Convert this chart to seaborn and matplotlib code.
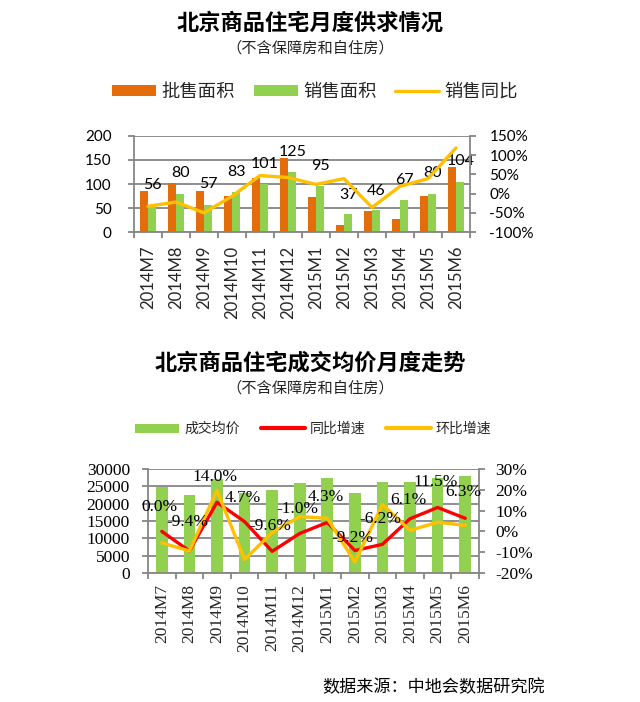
import matplotlib
matplotlib.use("Agg")
import matplotlib.pyplot as plt
import matplotlib.ticker as mticker
from matplotlib.patches import Patch
from matplotlib.lines import Line2D
import seaborn as sns
import pandas as pd
import numpy as np

sns.set_theme(style="white")
plt.rcParams['font.family'] = ['Noto Sans CJK SC', 'DejaVu Sans']
plt.rcParams['axes.unicode_minus'] = False

# data
months = ["2014M7", "2014M8", "2014M9", "2014M10", "2014M11", "2014M12",
          "2015M1", "2015M2", "2015M3", "2015M4", "2015M5", "2015M6"]
wholesale_area = [85, 103, 85, 76, 113, 155, 72, 14, 43, 28, 74, 135]
sales_area = [56, 80, 57, 83, 101, 125, 95, 37, 46, 67, 80, 104]
sales_yoy = [-33, -22, -50, -7, 47, 42, 24, 39, -36, 19, 39, 119]

avg_price = [24900, 22600, 27100, 23200, 24000, 25850, 27300, 23200, 26200, 26300, 27300, 28070]
price_yoy = [0.0, -9.4, 14.0, 4.7, -9.6, -1.0, 4.3, -9.2, -6.2, 6.1, 11.5, 6.3]
price_mom = [-5.5, -9.4, 19.7, -13.5, -0.6, 7.1, 6.3, -14.7, 12.9, 0.5, 4.4, 2.9]

# label placement (layout only)
area_label_y = [97, 123, 99, 124, 142, 167, 137, 78, 85, 109, 123, 148]
yoy_label_dy = [24, 29, 25, 24, 25, 24, 25, 13, 25, 19, 25, 26]

ORANGE = "#E46C0A"
GREEN = "#92D050"
YELLOW = "#FFC000"
RED = "#FF0000"
GRAY = "#868686"
CJK = "Noto Sans CJK SC"
SANS = "Lato"
SERIF = "Liberation Serif"

fig = plt.figure(figsize=(6.4, 7.02), dpi=100)
W, H = 640, 702


def fx(px):
    return px / W


def fy(py):
    return 1 - py / H


def style_axes(ax, axr, tick_font, tick_size, xtick_size, lpad, rpad, xpad):
    for s in ["top", "right"]:
        ax.spines[s].set_visible(False)
    for s in ["left", "bottom"]:
        ax.spines[s].set_color(GRAY)
        ax.spines[s].set_linewidth(1.3)
    for s in ["top", "left", "bottom"]:
        axr.spines[s].set_visible(False)
    axr.spines["right"].set_color(GRAY)
    axr.spines["right"].set_linewidth(1.3)
    ax.yaxis.grid(True, color=GRAY, linewidth=1.3)
    ax.xaxis.grid(False)
    ax.set_axisbelow(True)
    ax.set_xlim(-0.5, len(months) - 0.5)
    ax.set_xticks(np.arange(len(months)))
    ax.set_xticklabels(months, rotation=90, fontfamily=tick_font, fontsize=xtick_size)
    ax.set_xticks(np.arange(-0.5, len(months), 1), minor=True)
    ax.tick_params(axis="x", which="major", length=0, pad=xpad)
    ax.tick_params(axis="x", which="minor", length=4, width=1.3, color=GRAY, direction="out", bottom=True)
    ax.tick_params(axis="y", length=4, width=1.3, color=GRAY, direction="out", left=True, pad=lpad)
    axr.tick_params(axis="y", length=4, width=1.3, color=GRAY, direction="out", right=True, pad=rpad)
    for lab in ax.get_yticklabels() + axr.get_yticklabels():
        lab.set_fontfamily(tick_font)
        lab.set_fontsize(tick_size)
        lab.set_color("black")
    ax.set_xlabel("")
    ax.set_ylabel("")
    axr.set_ylabel("")


# ---------------- Chart 1 ----------------
ax1 = fig.add_axes([fx(134), fy(232), fx(470 - 134), (232 - 136) / H])
df1 = pd.DataFrame({
    "month": months * 2,
    "value": wholesale_area + sales_area,
    "series": ["批售面积"] * len(months) + ["销售面积"] * len(months),
})
sns.barplot(data=df1, x="month", y="value", hue="series", order=months,
            palette=[ORANGE, GREEN], width=0.56, dodge=True, saturation=1,
            legend=False, ax=ax1, linewidth=0)
ax1.set_ylim(0, 200)
ax1.set_yticks(range(0, 201, 50))

ax1r = ax1.twinx()
sns.lineplot(x=np.arange(len(months)), y=sales_yoy, color=YELLOW, linewidth=2.4, ax=ax1r)
ax1r.set_ylim(-100, 150)
ax1r.set_yticks(range(-100, 151, 50))
ax1r.yaxis.set_major_formatter(mticker.FuncFormatter(lambda v, p: f"{v:.0f}%"))
style_axes(ax1, ax1r, SANS, 11, 12, 12, 10, 10)

for i, (v, ly) in enumerate(zip(sales_area, area_label_y)):
    ax1.text(i + 0.16, ly, f"{v}", ha="center", va="center",
             fontfamily=SANS, fontsize=11.5, color="black")

fig.text(fx(310), fy(23), "北京商品住宅月度供求情况", ha="center", va="center",
         fontsize=16, fontweight="bold", color="black")
fig.text(fx(310), fy(48), "（不含保障房和自住房）", ha="center", va="center",
         fontsize=11, color="#222222")
h1 = [Patch(facecolor=ORANGE, edgecolor="none"),
      Patch(facecolor=GREEN, edgecolor="none"),
      Line2D([0], [0], color=YELLOW, linewidth=2.4)]
fig.legend(h1, ["批售面积", "销售面积", "销售同比"], loc="center",
           bbox_to_anchor=(fx(315), fy(92)), ncol=3, frameon=False,
           prop={"family": CJK, "size": 13.2}, handlelength=2.4,
           handleheight=0.55, handletextpad=0.3, columnspacing=1.0)

# ---------------- Chart 2 ----------------
ax2 = fig.add_axes([fx(148), fy(573), fx(479 - 148), (573 - 469) / H])
df2 = pd.DataFrame({"month": months, "price": avg_price})
sns.barplot(data=df2, x="month", y="price", order=months, color=GREEN,
            width=0.42, saturation=1, ax=ax2, linewidth=0)
ax2.set_ylim(0, 30000)
ax2.set_yticks(range(0, 30001, 5000))

ax2r = ax2.twinx()
sns.lineplot(x=np.arange(len(months)), y=price_yoy, color=RED, linewidth=2.4, ax=ax2r)
sns.lineplot(x=np.arange(len(months)), y=price_mom, color=YELLOW, linewidth=2.4, ax=ax2r)
ax2r.set_ylim(-20, 30)
ax2r.set_yticks(range(-20, 31, 10))
ax2r.yaxis.set_major_formatter(mticker.FuncFormatter(lambda v, p: f"{v:.0f}%"))
style_axes(ax2, ax2r, SERIF, 12.5, 12.5, 9, 8, 8)

for i, (v, dy) in enumerate(zip(price_yoy, yoy_label_dy)):
    ax2r.annotate(f"{v:.1f}%", xy=(i, v), xytext=(-2, dy), textcoords="offset pixels",
                  ha="center", va="center", fontfamily=SERIF, fontsize=12.5, color="black")

fig.text(fx(310), fy(363), "北京商品住宅成交均价月度走势", ha="center", va="center",
         fontsize=16, fontweight="bold", color="black")
fig.text(fx(310), fy(388), "（不含保障房和自住房）", ha="center", va="center",
         fontsize=11, color="#222222")
h2 = [Patch(facecolor=GREEN, edgecolor="none"),
      Line2D([0], [0], color=RED, linewidth=3, solid_capstyle="round"),
      Line2D([0], [0], color=YELLOW, linewidth=3)]
fig.legend(h2, ["成交均价", "同比增速", "环比增速"], loc="center",
           bbox_to_anchor=(fx(313), fy(429)), ncol=3, frameon=False,
           prop={"family": CJK, "size": 10}, handlelength=3.2,
           handleheight=0.6, handletextpad=0.35, columnspacing=1.5)

fig.text(fx(545), fy(687), "数据来源：中地会数据研究院", ha="right", va="center",
         fontsize=12.3, color="black")

fig.savefig("out.png", dpi=100)
